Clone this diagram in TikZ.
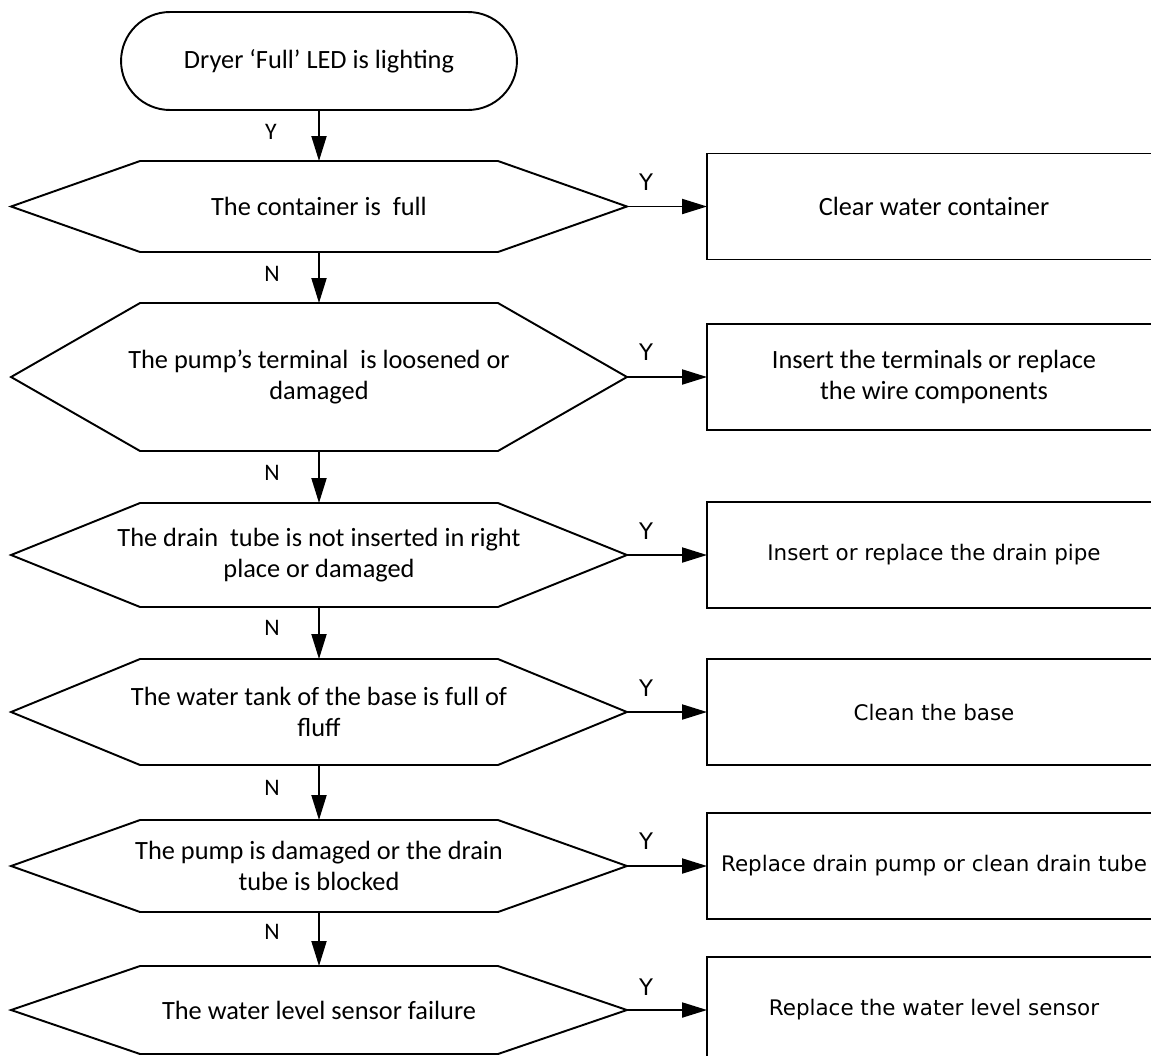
\documentclass[tikz,border=0pt]{standalone}
\usepackage{fontspec}
\setmainfont{Carlito}
\newfontfamily\dvsans{DejaVu Sans}
\usetikzlibrary{shapes.misc,arrows.meta}
\begin{document}
\begin{tikzpicture}[x=0.02cm,y=-0.02cm,
  every node/.style={outer sep=0pt, inner sep=0pt},
  cal/.style={font=\fontsize{15}{17.6}\selectfont},
  dvs/.style={font=\dvsans\fontsize{12.2}{16}\selectfont},
  term/.style={rounded rectangle, draw, line width=1.1pt, minimum width=7.92cm, minimum height=1.96cm, cal},
  hex/.style={rectangle, minimum width=12.32cm, minimum height=#1, align=center, cal},
  hexline/.style={line width=1.1pt, line join=miter},
  act/.style={rectangle, draw, line width=1.1pt, minimum width=9.08cm, minimum height=2.12cm, align=center},
  arr/.style={line width=1.1pt, -{Triangle[length=0.5cm,width=0.3cm]}},
  ynl/.style={font=\fontsize{13.5}{16}\selectfont},
  ynd/.style={font=\dvsans\fontsize{13}{15}\selectfont},
]
\useasboundingbox (0,0) rectangle (1151,1055);
\clip (0,0) rectangle (1151,1055);
\fill[white] (0,0) rectangle (1151,1055);

\node[term] (t) at (319,61) {Dryer ‘Full’ LED is lighting};

\node[hex=1.82cm] (h1) at (319,206.5) {The container is~ full};
\node[hex=2.96cm] (h2) at (319,377) {The pump’s terminal~ is loosened or\\damaged};
\node[hex=2.08cm] (h3) at (319,555) {The drain~ tube is not inserted in right\\place or damaged};
\node[hex=2.12cm] (h4) at (319,712) {The water tank of the base is full of\\fluff};
\node[hex=1.84cm] (h5) at (319,866) {The pump is damaged or the drain\\tube is blocked};
\node[hex=1.76cm] (h6) at (319,1010) {The water level sensor failure};

\foreach \n in {h1,h2,h3,h4,h5,h6}
  \draw[hexline] (\n.west) -- ([xshift=2.58cm]\n.north west) -- ([xshift=-2.58cm]\n.north east)
    -- (\n.east) -- ([xshift=-2.58cm]\n.south east) -- ([xshift=2.58cm]\n.south west) -- cycle;

\node[act, cal] (b1) at (934,206.5) {Clear water container};
\node[act, cal] (b2) at (934,377) {Insert the terminals or replace\\the wire components};
\node[act, dvs] (b3) at (934,555) {Insert or replace the drain pipe};
\node[act, dvs] (b4) at (934,712) {Clean the base};
\node[act, dvs] (b5) at (934,866) {Replace drain pump or clean drain tube};
\node[act, dvs] (b6) at (934,1010) {Replace the water level sensor};

\draw[arr] (t.south) -- (h1.north);
\draw[arr] (h1.south) -- (h2.north);
\draw[arr] (h2.south) -- (h3.north);
\draw[arr] (h3.south) -- (h4.north);
\draw[arr] (h4.south) -- (h5.north);
\draw[arr] (h5.south) -- (h6.north);

\draw[arr] (h1.east) -- (b1.west);
\draw[arr] (h2.east) -- (b2.west);
\draw[arr] (h3.east) -- (b3.west);
\draw[arr] (h4.east) -- (b4.west);
\draw[arr] (h5.east) -- (b5.west);
\draw[arr] (h6.east) -- (b6.west);

\node[ynl] (y0) at (271,132) {Y};
\node[ynl] (n1) at (272,274) {N};
\node[ynl] (n2) at (272,473) {N};
\node[ynl] (n3) at (272,628) {N};
\node[ynl] (n4) at (272,788) {N};
\node[ynl] (n5) at (272,932) {N};

\node[ynd] (y1) at (646,182) {Y};
\node[ynd] (y2) at (646,352) {Y};
\node[ynd] (y3) at (646,531) {Y};
\node[ynd] (y4) at (646,688) {Y};
\node[ynd] (y5) at (646,841) {Y};
\node[ynd] (y6) at (646,987) {Y};
\end{tikzpicture}
\end{document}
